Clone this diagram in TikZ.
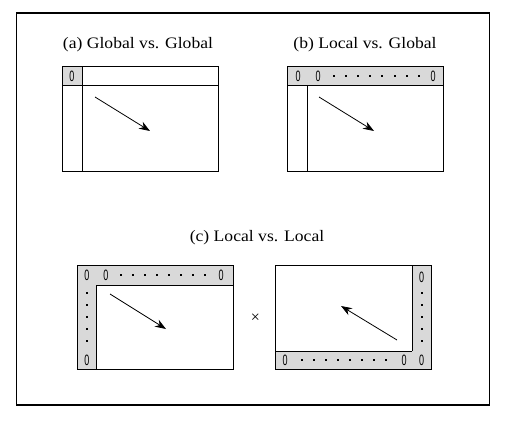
\documentclass[tikz,border=0pt]{standalone}
\usepackage{fontspec}
\usepackage{xcolor}
\usetikzlibrary{arrows.meta}
\setmainfont{Liberation Serif}
\newfontfamily\titlefont[FakeStretch=1.1]{Liberation Serif}
\newfontfamily\zerofont[FakeStretch=0.6]{Liberation Sans}
\definecolor{panelgrey}{gray}{0.85}

\begin{document}
\begin{tikzpicture}[
    x=1pt, y=-1pt,
    frame/.style={draw, line width=1.2pt},
    panelbox/.style={draw, line width=1pt},
    cellfill/.style={fill=panelgrey},
    title/.style={font=\titlefont\fontsize{16}{19}\selectfont, inner sep=0pt},
    zero/.style={font=\zerofont\fontsize{15}{15}\selectfont, inner sep=0pt},
    vec/.style={-{Stealth[length=11pt, width=8pt]}, line width=0.8pt}
]
    \useasboundingbox (0,0) rectangle (510,422);

    % Outer frame
    \draw[frame] (16.5,13) rectangle (489.5,405);

    % Titles
    \node[title] (ta) at (138,45) {(a) Global vs. Global};
    \node[title] (tb) at (365,45) {(b) Local vs. Global};
    \node[title] (tc) at (257,238) {(c) Local vs. Local};

    % Panel (a)
    \fill[cellfill] (62,67) rectangle (82,86);
    \draw[panelbox] (62,67) rectangle (218,171);
    \draw[panelbox] (62,86) -- (218,86);
    \draw[panelbox] (82,67) -- (82,171);
    \node[zero] (a0) at (72,76.5) {0};
    \coordinate (atail) at (95,97);
    \coordinate (ahead) at (150,131);
    \draw[vec] (atail) -- (ahead);

    % Panel (b)
    \fill[cellfill] (287,67) rectangle (443,86);
    \draw[panelbox] (287,67) rectangle (443,171);
    \draw[panelbox] (287,86) -- (443,86);
    \draw[panelbox] (307,86) -- (307,171);
    \node[zero] (b0) at (298,76.5) {0};
    \node[zero] (b1) at (318,76.5) {0};
    \foreach \i in {0,...,7}
        \fill ({333+12.1*\i},75.5) rectangle ++(2,2);
    \node[zero] (b2) at (433,76.5) {0};
    \coordinate (btail) at (319,97);
    \coordinate (bhead) at (374,131);
    \draw[vec] (btail) -- (bhead);

    % Panel (c), left
    \fill[cellfill] (77,265) rectangle (233,285);
    \fill[cellfill] (77,285) rectangle (96,369);
    \draw[panelbox] (77,265) rectangle (233,369);
    \draw[panelbox] (96,285) -- (233,285);
    \draw[panelbox] (96,285) -- (96,369);
    \node[zero] (c0) at (87,275) {0};
    \node[zero] (c1) at (106,275) {0};
    \foreach \i in {0,...,7}
        \fill ({119.5+12*\i},274) rectangle ++(2,2);
    \node[zero] (c2) at (221,275) {0};
    \foreach \k in {0,...,4}
        \fill (86,{292+12*\k}) rectangle ++(2,2);
    \node[zero] (c3) at (87,360) {0};
    \coordinate (ctail) at (110,294);
    \coordinate (chead) at (166,329);
    \draw[vec] (ctail) -- (chead);

    % Times sign
    \node[font=\fontsize{16}{16}\selectfont, inner sep=0pt] (times) at (255.5,318) {×};

    % Panel (c), right
    \fill[cellfill] (275,351) rectangle (431,369);
    \fill[cellfill] (412,265) rectangle (431,351);
    \draw[panelbox] (275,265) rectangle (431,369);
    \draw[panelbox] (275,351) -- (412,351);
    \draw[panelbox] (412,265) -- (412,351);
    \node[zero] (d0) at (285,360) {0};
    \foreach \i in {0,...,7}
        \fill ({301+12*\i},359) rectangle ++(2,2);
    \node[zero] (d1) at (404,360) {0};
    \node[zero] (d2) at (421.5,360) {0};
    \node[zero] (d3) at (421.5,277) {0};
    \foreach \k in {0,...,4}
        \fill (420.5,{292+12*\k}) rectangle ++(2,2);
    \coordinate (dtail) at (397,340);
    \coordinate (dhead) at (341,306);
    \draw[vec] (dtail) -- (dhead);
\end{tikzpicture}
\end{document}
